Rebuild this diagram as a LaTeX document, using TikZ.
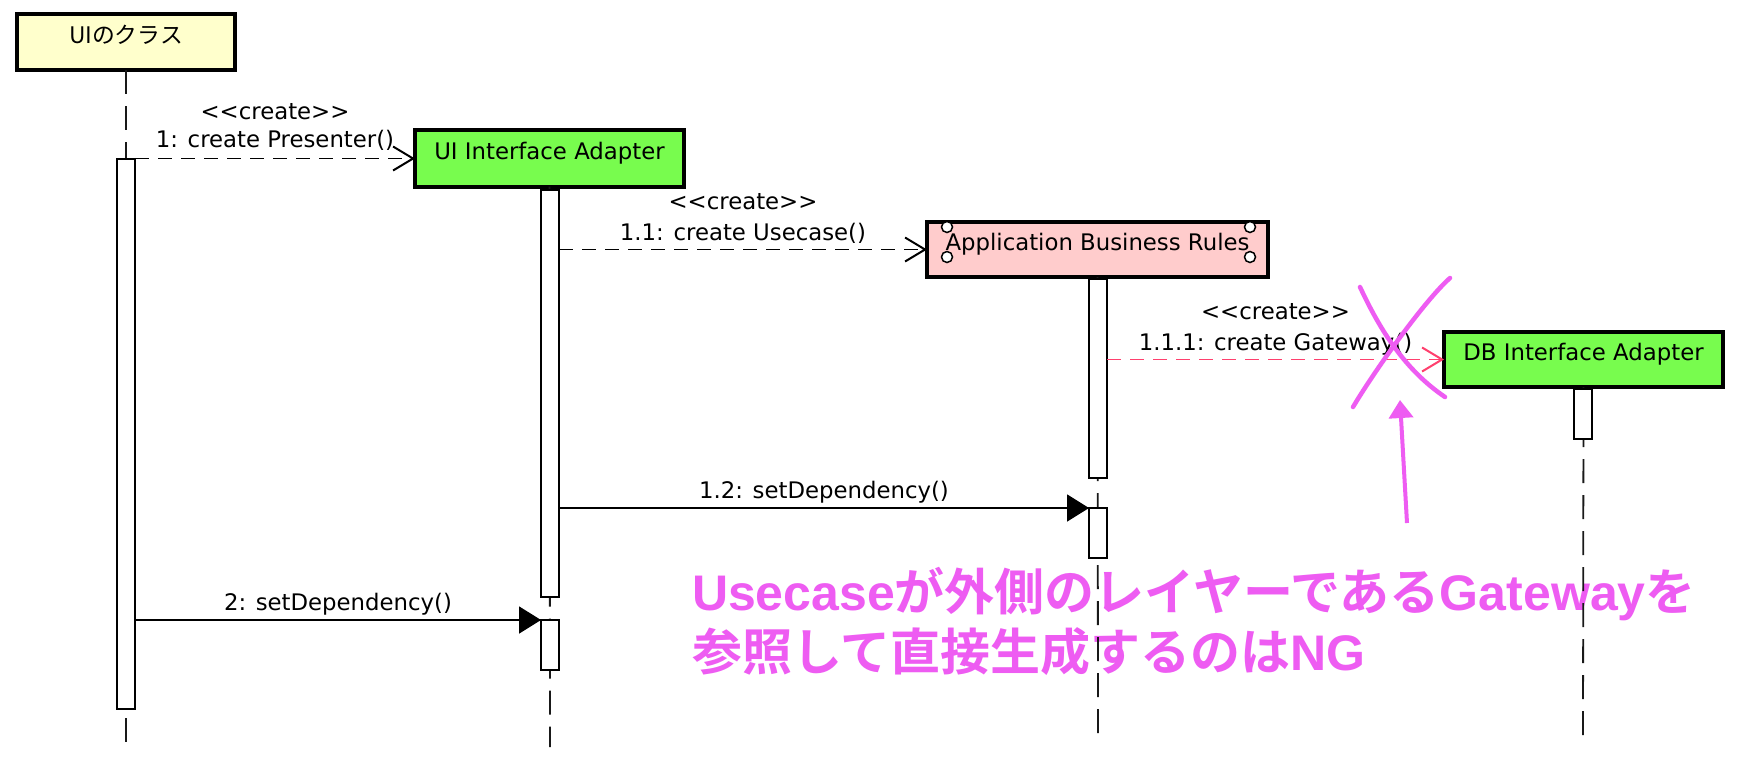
\documentclass[tikz,border=0pt]{standalone}
\usepackage{fontspec}
\setmainfont{DejaVu Sans}
\newfontfamily\jp{Noto Sans CJK JP}[BoldFont={Noto Sans CJK JP Bold}]
\newfontfamily\latb{Liberation Sans}
\usetikzlibrary{arrows.meta,calc}
\definecolor{uiyellow}{RGB}{255,255,204}
\definecolor{adgreen}{RGB}{120,252,78}
\definecolor{abrpink}{RGB}{255,204,204}
\definecolor{msgred}{RGB}{255,64,110}
\definecolor{notemag}{RGB}{238,92,242}
\begin{document}
\begin{tikzpicture}[x=1pt,y=-1pt,
  every node/.style={inner sep=0pt, outer sep=0pt},
  lifebox/.style={draw, line width=4pt, minimum height=55pt, text height=17pt, text depth=15pt, font=\fontsize{22.8}{27}\selectfont},
  actbar/.style={draw, fill=white, line width=2pt, minimum width=18pt},
  lifeline/.style={draw=black!90, line width=1.8pt, dash pattern=on 24pt off 12pt},
  createmsg/.style={line width=1.8pt, dash pattern=on 14pt off 9pt, -{Straight Barb[length=20pt,width=24pt,line width=2pt]}},
  callmsg/.style={line width=1.8pt, -{Triangle[length=22pt,width=27pt]}},
  lbl/.style={font=\fontsize{22.8}{27}\selectfont, anchor=base, text=black},
  cross/.style={draw=notemag, line width=4.5pt, line cap=round},
  notetext/.style={text=notemag, anchor=base west, font=\fontsize{50}{60}\selectfont\bfseries},
  corner/.style={draw, fill=white, line width=1.5pt, circle, minimum size=11pt}
]
\useasboundingbox[fill=white] (0,0) rectangle (1740,772);

% note text (behind lifelines)
\node[notetext] (note1) at (692,610) {{\latb Usecase}{\jp が外側のレイヤーである}{\latb Gateway}{\jp を}};
\node[notetext] (note2) at (692,670) {{\jp 参照して直接生成するのは}{\latb NG}};

% lifeline heads
\node[lifebox, fill=uiyellow, minimum width=218pt, minimum height=56pt] (ui) at (126,42) {\jp UIのクラス};
\node[lifebox, fill=adgreen, minimum width=269pt, minimum height=56.4pt] (uia) at (549.5,158.5) {UI Interface Adapter};
\node[lifebox, fill=abrpink, minimum width=341pt] (abr) at (1097.5,249.5) {Application Business Rules};
\node[lifebox, fill=adgreen, minimum width=279pt] (db) at (1583.5,359.5) {DB Interface Adapter};

% corner circles of Application Business Rules
\node[corner] (c1) at ($(abr.north west)+(20,5)$) {};
\node[corner] (c2) at ($(abr.south west)+(20,-20)$) {};
\node[corner] (c3) at ($(abr.north east)+(-18,5)$) {};
\node[corner] (c4) at ($(abr.south east)+(-18,-20)$) {};

% lifelines
\coordinate (uiend) at (126,746);
\coordinate (uiaend) at (550,747);
\coordinate (abrend) at (1098,737);
\coordinate (dbend) at (1583,738);
\draw[lifeline] (ui.south) -- (uiend);
\draw[lifeline] (uia.south) -- (uiaend);
\draw[lifeline] (abr.south) -- (abrend);
\draw[lifeline] (db.south) -- (dbend);

% activation bars
\node[actbar, minimum height=550pt] (uiact) at (126,434) {};
\node[actbar, minimum height=407pt] (uiaact1) at (550,393.5) {};
\node[actbar, minimum height=50pt] (uiaact2) at (550,645) {};
\node[actbar, minimum height=199pt] (abract1) at (1098,378.5) {};
\node[actbar, minimum height=50pt] (abract2) at (1098,533) {};
\node[actbar, minimum height=50pt] (dbact) at (1583,414) {};

% messages
\draw[createmsg] (uiact.east |- uia.west) -- node[lbl, yshift=11pt] (l1) {1: create Presenter()} node[lbl, yshift=39pt] (s1) {{<}{<}create{>}{>}} (uia.west);
\draw[createmsg] (uiaact1.east |- abr.west) -- node[lbl, yshift=9pt] (l11) {1.1: create Usecase()} node[lbl, yshift=40pt] (s11) {{<}{<}create{>}{>}} (abr.west);
\draw[createmsg, draw=msgred] (abract1.east |- db.west) -- node[lbl, yshift=9pt] (l111) {1.1.1: create Gateway()} node[lbl, yshift=40pt] (s111) {{<}{<}create{>}{>}} (db.west);
\draw[callmsg] (uiaact1.east |- abract2.north west) -- node[lbl, yshift=10pt] (l12) {1.2: setDependency()} (abract2.north west);
\draw[callmsg] (uiact.east |- uiaact2.north west) -- node[lbl, yshift=10pt] (l2) {2: setDependency()} (uiaact2.north west);

% magenta cross and arrow
\draw[cross] (1360,287) .. controls (1380,330) and (1405,370) .. (1445,397);
\draw[cross] (1450,278) .. controls (1425,300) and (1375,370) .. (1353,407);
\coordinate (ptail) at (1407,523);
\coordinate (phead) at (1400,400);
\draw[draw=notemag, line width=4pt, -{Triangle[length=18pt,width=24pt,fill=notemag]}] (ptail) -- (phead);
\end{tikzpicture}
\end{document}
